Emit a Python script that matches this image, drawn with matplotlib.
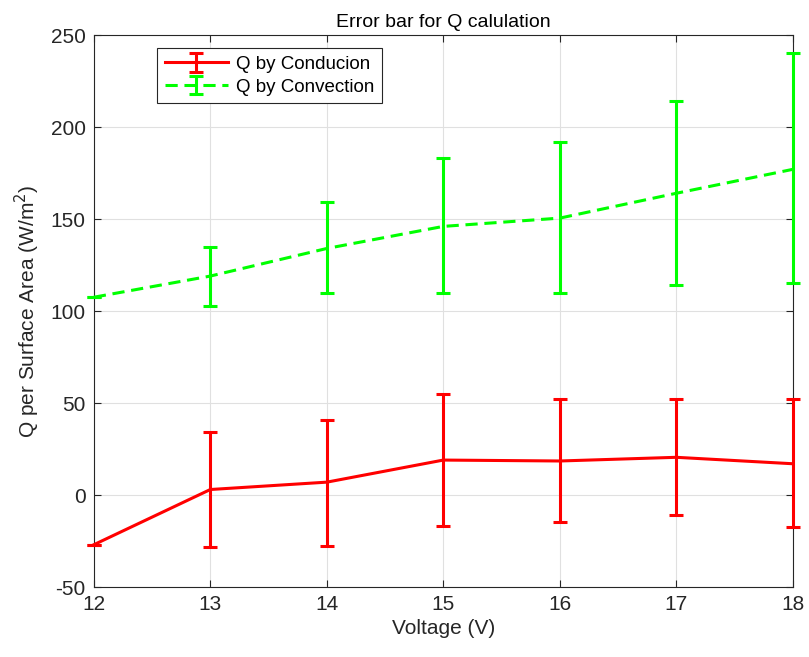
import numpy as np
import matplotlib.pyplot as plt

plt.rcParams['font.family'] = ['Liberation Sans', 'DejaVu Sans']
plt.rcParams['axes.unicode_minus'] = False

voltage = [12, 13, 14, 15, 16, 17, 18]
q_cond = [-27, 3, 7, 19, 18.5, 20.5, 17]
cond_low = [-27, -28, -27.5, -17, -14.5, -11, -17.5]
cond_high = [-27, 34.5, 41, 55, 52, 52, 52]
q_conv = [107.5, 119, 134, 146, 150.5, 164, 177]
conv_low = [107.5, 103, 110, 110, 110, 114, 115.5]
conv_high = [107.5, 135, 159, 183, 192, 214, 240]

q_cond = np.array(q_cond)
q_conv = np.array(q_conv)
err_cond = [q_cond - np.array(cond_low), np.array(cond_high) - q_cond]
err_conv = [q_conv - np.array(conv_low), np.array(conv_high) - q_conv]

fig = plt.figure(figsize=(8.09, 6.57), dpi=100)
ax = fig.add_axes([0.116, 0.1065, 0.864, 0.8402])

e1 = ax.errorbar(voltage, q_cond, yerr=err_cond, color='#ff0000', lw=2.2,
                 elinewidth=2.2, capsize=5, capthick=2.2, label='Q by Conducion',
                 clip_on=False, zorder=3)
e2 = ax.errorbar(voltage, q_conv, yerr=err_conv, color='#00ff00', lw=2.2, ls='--',
                 dashes=(4, 2.2), elinewidth=2.2, capsize=5, capthick=2.2,
                 label='Q by Convection', clip_on=False, zorder=3)
for e in (e1, e2):
    for c in e[1]:
        c.set_clip_on(False)
    for b in e[2]:
        b.set_clip_on(False)

ax.set_xlim(12, 18)
ax.set_ylim(-50, 250)
ax.set_xticks(range(12, 19))
ax.set_yticks(range(-50, 251, 50))
ax.grid(True, color='#e0e0e0', lw=0.8)
ax.set_axisbelow(True)
ax.tick_params(direction='in', top=True, right=True, labelsize=15, colors='#262626',
               length=5, width=0.8, pad=6)
for s in ax.spines.values():
    s.set_color('#262626')
    s.set_linewidth(0.8)

ax.set_title('Error bar for Q calulation', fontsize=14, color='black', pad=6)
ax.set_xlabel('Voltage (V)', fontsize=15, color='#262626', labelpad=3)
ax.set_ylabel('Q per Surface Area (W/m$^2$)', fontsize=15, color='#262626', labelpad=6)

leg = ax.legend(loc='upper left', bbox_to_anchor=(0.077, 0.993), fontsize=13.5,
                fancybox=False, edgecolor='#262626', framealpha=1,
                handlelength=3.4, borderpad=0.4, labelspacing=0.3, handletextpad=0.4)
leg.get_frame().set_linewidth(0.8)

fig.savefig('out.png', dpi=100)
